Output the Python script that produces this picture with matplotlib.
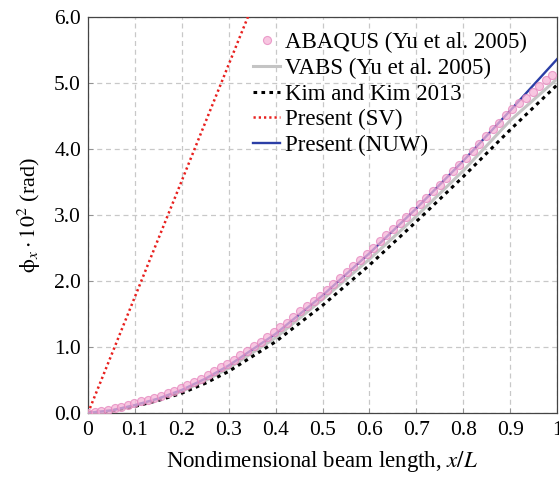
import matplotlib
matplotlib.use("Agg")
import matplotlib.pyplot as plt

plt.rcParams['font.family'] = ['Liberation Serif', 'DejaVu Serif']
plt.rcParams['mathtext.fontset'] = 'stix'

# ABAQUS (Yu et al. 2005) markers
abaqus_x = [0.000, 0.014, 0.028, 0.042, 0.057, 0.071, 0.085, 0.099, 0.113, 0.127,
            0.141, 0.156, 0.170, 0.184, 0.198, 0.212, 0.226, 0.240, 0.255, 0.269,
            0.283, 0.297, 0.311, 0.325, 0.339, 0.354, 0.368, 0.382, 0.396, 0.410,
            0.424, 0.438, 0.453, 0.467, 0.481, 0.495, 0.509, 0.523, 0.537, 0.552,
            0.566, 0.580, 0.594, 0.608, 0.622, 0.636, 0.651, 0.665, 0.679, 0.693,
            0.707, 0.721, 0.735, 0.750, 0.764, 0.778, 0.792, 0.806, 0.820, 0.834,
            0.849, 0.863, 0.877, 0.891, 0.905, 0.919, 0.933, 0.948, 0.962, 0.976,
            0.990]
abaqus_y = [0.00, 0.01, 0.03, 0.045, 0.07, 0.095, 0.12, 0.15, 0.175, 0.20,
            0.23, 0.265, 0.30, 0.335, 0.375, 0.42, 0.465, 0.515, 0.57, 0.63,
            0.69, 0.745, 0.81, 0.875, 0.94, 1.01, 1.08, 1.15, 1.22, 1.30,
            1.37, 1.45, 1.54, 1.62, 1.70, 1.78, 1.87, 1.95, 2.04, 2.13,
            2.23, 2.32, 2.41, 2.50, 2.60, 2.69, 2.79, 2.88, 2.97, 3.06,
            3.16, 3.26, 3.36, 3.46, 3.56, 3.66, 3.76, 3.87, 3.97, 4.08,
            4.19, 4.30, 4.40, 4.51, 4.61, 4.69, 4.78, 4.87, 4.95, 5.04,
            5.12]

line_x = [0.0, 0.05, 0.1, 0.15, 0.2, 0.25, 0.3, 0.4, 0.5, 0.6, 0.7, 0.8, 0.9, 1.0]
vabs_y = [0.0, 0.035, 0.11, 0.21, 0.33, 0.49, 0.68, 1.14, 1.72, 2.33, 2.98, 3.67, 4.43, 5.06]
kim_y = [0.0, 0.03, 0.10, 0.19, 0.30, 0.45, 0.63, 1.08, 1.63, 2.24, 2.90, 3.58, 4.29, 4.97]
nuw_y = [0.0, 0.04, 0.12, 0.22, 0.35, 0.52, 0.72, 1.20, 1.78, 2.42, 3.10, 3.82, 4.58, 5.36]

sv_x = [0.0, 0.4]
sv_y = [0.0, 7.04]

x_ticks = [0, 0.1, 0.2, 0.3, 0.4, 0.5, 0.6, 0.7, 0.8, 0.9, 1.0]
x_tick_labels = ['0', '0.1', '0.2', '0.3', '0.4', '0.5', '0.6', '0.7', '0.8', '0.9', '1']
y_ticks = [0, 1, 2, 3, 4, 5, 6]
y_tick_labels = ['0.0', '1.0', '2.0', '3.0', '4.0', '5.0', '6.0']

fig = plt.figure(figsize=(5.59, 4.79), dpi=100)
ax = fig.add_axes([88/559, 1-413/479, (557-88)/559, (413-17)/479])

ax.plot(line_x, vabs_y, color='#c4c4c4', lw=2.2, label='VABS (Yu et al. 2005)', zorder=3)
ax.plot(line_x, kim_y, color='black', lw=2.2, ls=(0, (1.2, 1.4)), label='Kim and Kim 2013', zorder=4)
ax.plot(sv_x, sv_y, color='#e8201e', lw=1.8, ls=(0, (0.9, 1.2)), label='Present (SV)', zorder=4)
ax.plot(line_x, nuw_y, color='#2b3ea6', lw=1.7, label='Present (NUW)', zorder=5)
ax.plot(abaqus_x, abaqus_y, ls='none', marker='o', ms=5.8, mfc='#f6b4d8', mec='#e585bd',
        mew=0.8, alpha=0.75, label='ABAQUS (Yu et al. 2005)', zorder=6)

ax.set_xlim(0, 1)
ax.set_ylim(0, 6)
ax.set_xticks(x_ticks)
ax.set_xticklabels(x_tick_labels)
ax.set_yticks(y_ticks)
ax.set_yticklabels(y_tick_labels)
ax.tick_params(labelsize=15.5, direction='in', length=3.5, width=0.6, color='#888888')
ax.tick_params(axis='x', pad=6)
ax.tick_params(axis='y', pad=5)
ax.grid(True, color='#c8c8c8', ls=(0, (4, 3)), lw=0.9)
for s in ax.spines.values():
    s.set_color('#444444')
    s.set_linewidth(0.9)

ax.set_xlabel('Nondimensional beam length, $x/L$', fontsize=16.5, labelpad=6)
ax.set_ylabel(r'$\mathrm{\phi}_x \cdot 10^2$ (rad)', fontsize=16, labelpad=8)

handles, labels = ax.get_legend_handles_labels()
order = [4, 0, 1, 2, 3]
leg = ax.legend([handles[i] for i in order], [labels[i] for i in order],
                loc='upper left', bbox_to_anchor=(0.333, 0.985), frameon=False,
                fontsize=16.5, handlelength=1.15, handletextpad=0.25, labelspacing=0.2,
                borderaxespad=0)

fig.savefig('out.png', dpi=100)
